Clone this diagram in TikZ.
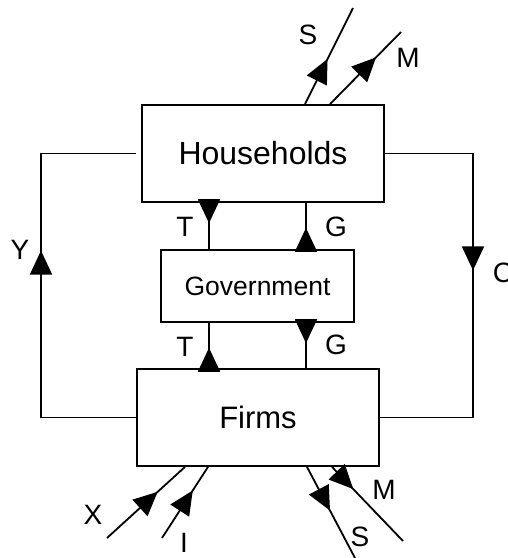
\documentclass[tikz,border=0pt]{standalone}
\usepackage{fontspec}
\setmainfont{Liberation Sans}
\usetikzlibrary{arrows.meta,decorations.markings}

\tikzset{
  sector/.style={draw,line width=1.8pt,minimum width=242pt,minimum height=97pt,inner sep=0pt},
  flow/.style={line width=1.8pt},
  tipat/.style={postaction={decorate,decoration={markings,
      mark=at position #1 with {\arrow{Triangle[length=24pt,width=22pt]}}}}},
  lbl/.style={font=\fontsize{28}{32}\selectfont,inner sep=0pt}
}

\begin{document}
\begin{tikzpicture}[x=1pt,y=-1pt]
  \useasboundingbox (0,0) rectangle (508,558);

  % the three sectors
  \node[sector,font=\fontsize{32}{38}\selectfont] (hh) at (263,153.5) {Households};
  \node[sector,minimum width=193pt,minimum height=72pt,font=\fontsize{26.5}{32}\selectfont] (gov) at (257.5,286) {Government};
  \node[sector,font=\fontsize{31}{37}\selectfont] (fi) at (258,417.5) {Firms};

  \coordinate (tx) at (209,0);
  \coordinate (gx) at (306,0);
  \coordinate (yx) at (41,0);
  \coordinate (cx) at (473,0);

  % circular flow
  \draw[flow,tipat=262pt] (fi.west) -| (yx |- hh.west) -- ([xshift=-5pt]hh.west);
  \draw[flow,tipat=205pt] (hh.east) -| (cx |- fi.east) -- (fi.east);

  % taxes and spending
  \draw[flow,tipat=0.44] (hh.south -| tx) -- (gov.north -| tx);
  \draw[flow,tipat=0.46] (gov.north -| gx) -- (hh.south -| gx);
  \draw[flow,tipat=0.45] (fi.north -| tx) -- (gov.south -| tx);
  \draw[flow,tipat=0.45] (gov.south -| gx) -- (fi.north -| gx);

  % leakages and injections
  \coordinate (sTop) at (353,8);
  \coordinate (mTop) at (401,32);
  \coordinate (xIn) at (107,538);
  \coordinate (iIn) at (162,538);
  \coordinate (sBot) at (355,558);
  \coordinate (mBot) at (403,541);
  \draw[flow,tipat=0.47] ([xshift=42pt]hh.north) -- (sTop);
  \draw[flow,tipat=0.65] ([xshift=67pt]hh.north) -- (mTop);
  \draw[flow,tipat=0.65] (xIn) -- ([xshift=-73pt]fi.south);
  \draw[flow,tipat=0.67] (iIn) -- ([xshift=-50pt]fi.south);
  \draw[flow,tipat=0.48] ([xshift=49pt]fi.south) -- (sBot);
  \draw[flow,tipat=0.30] ([xshift=74pt]fi.south) -- (mBot);

  % labels
  \node[lbl] (ly) at (20,250) {Y};
  \node[lbl] (lc) at (503,273) {C};
  \node[lbl] (lt1) at (185,227) {T};
  \node[lbl] (lg1) at (336,227) {G};
  \node[lbl] (lt2) at (185,347) {T};
  \node[lbl] (lg2) at (336,345) {G};
  \node[lbl] (ls1) at (308,35) {S};
  \node[lbl] (lm1) at (408,58) {M};
  \node[lbl] (lx) at (93,515) {X};
  \node[lbl] (li) at (184,543) {I};
  \node[lbl] (ls2) at (360,537) {S};
  \node[lbl] (lm2) at (384,490) {M};
\end{tikzpicture}
\end{document}
